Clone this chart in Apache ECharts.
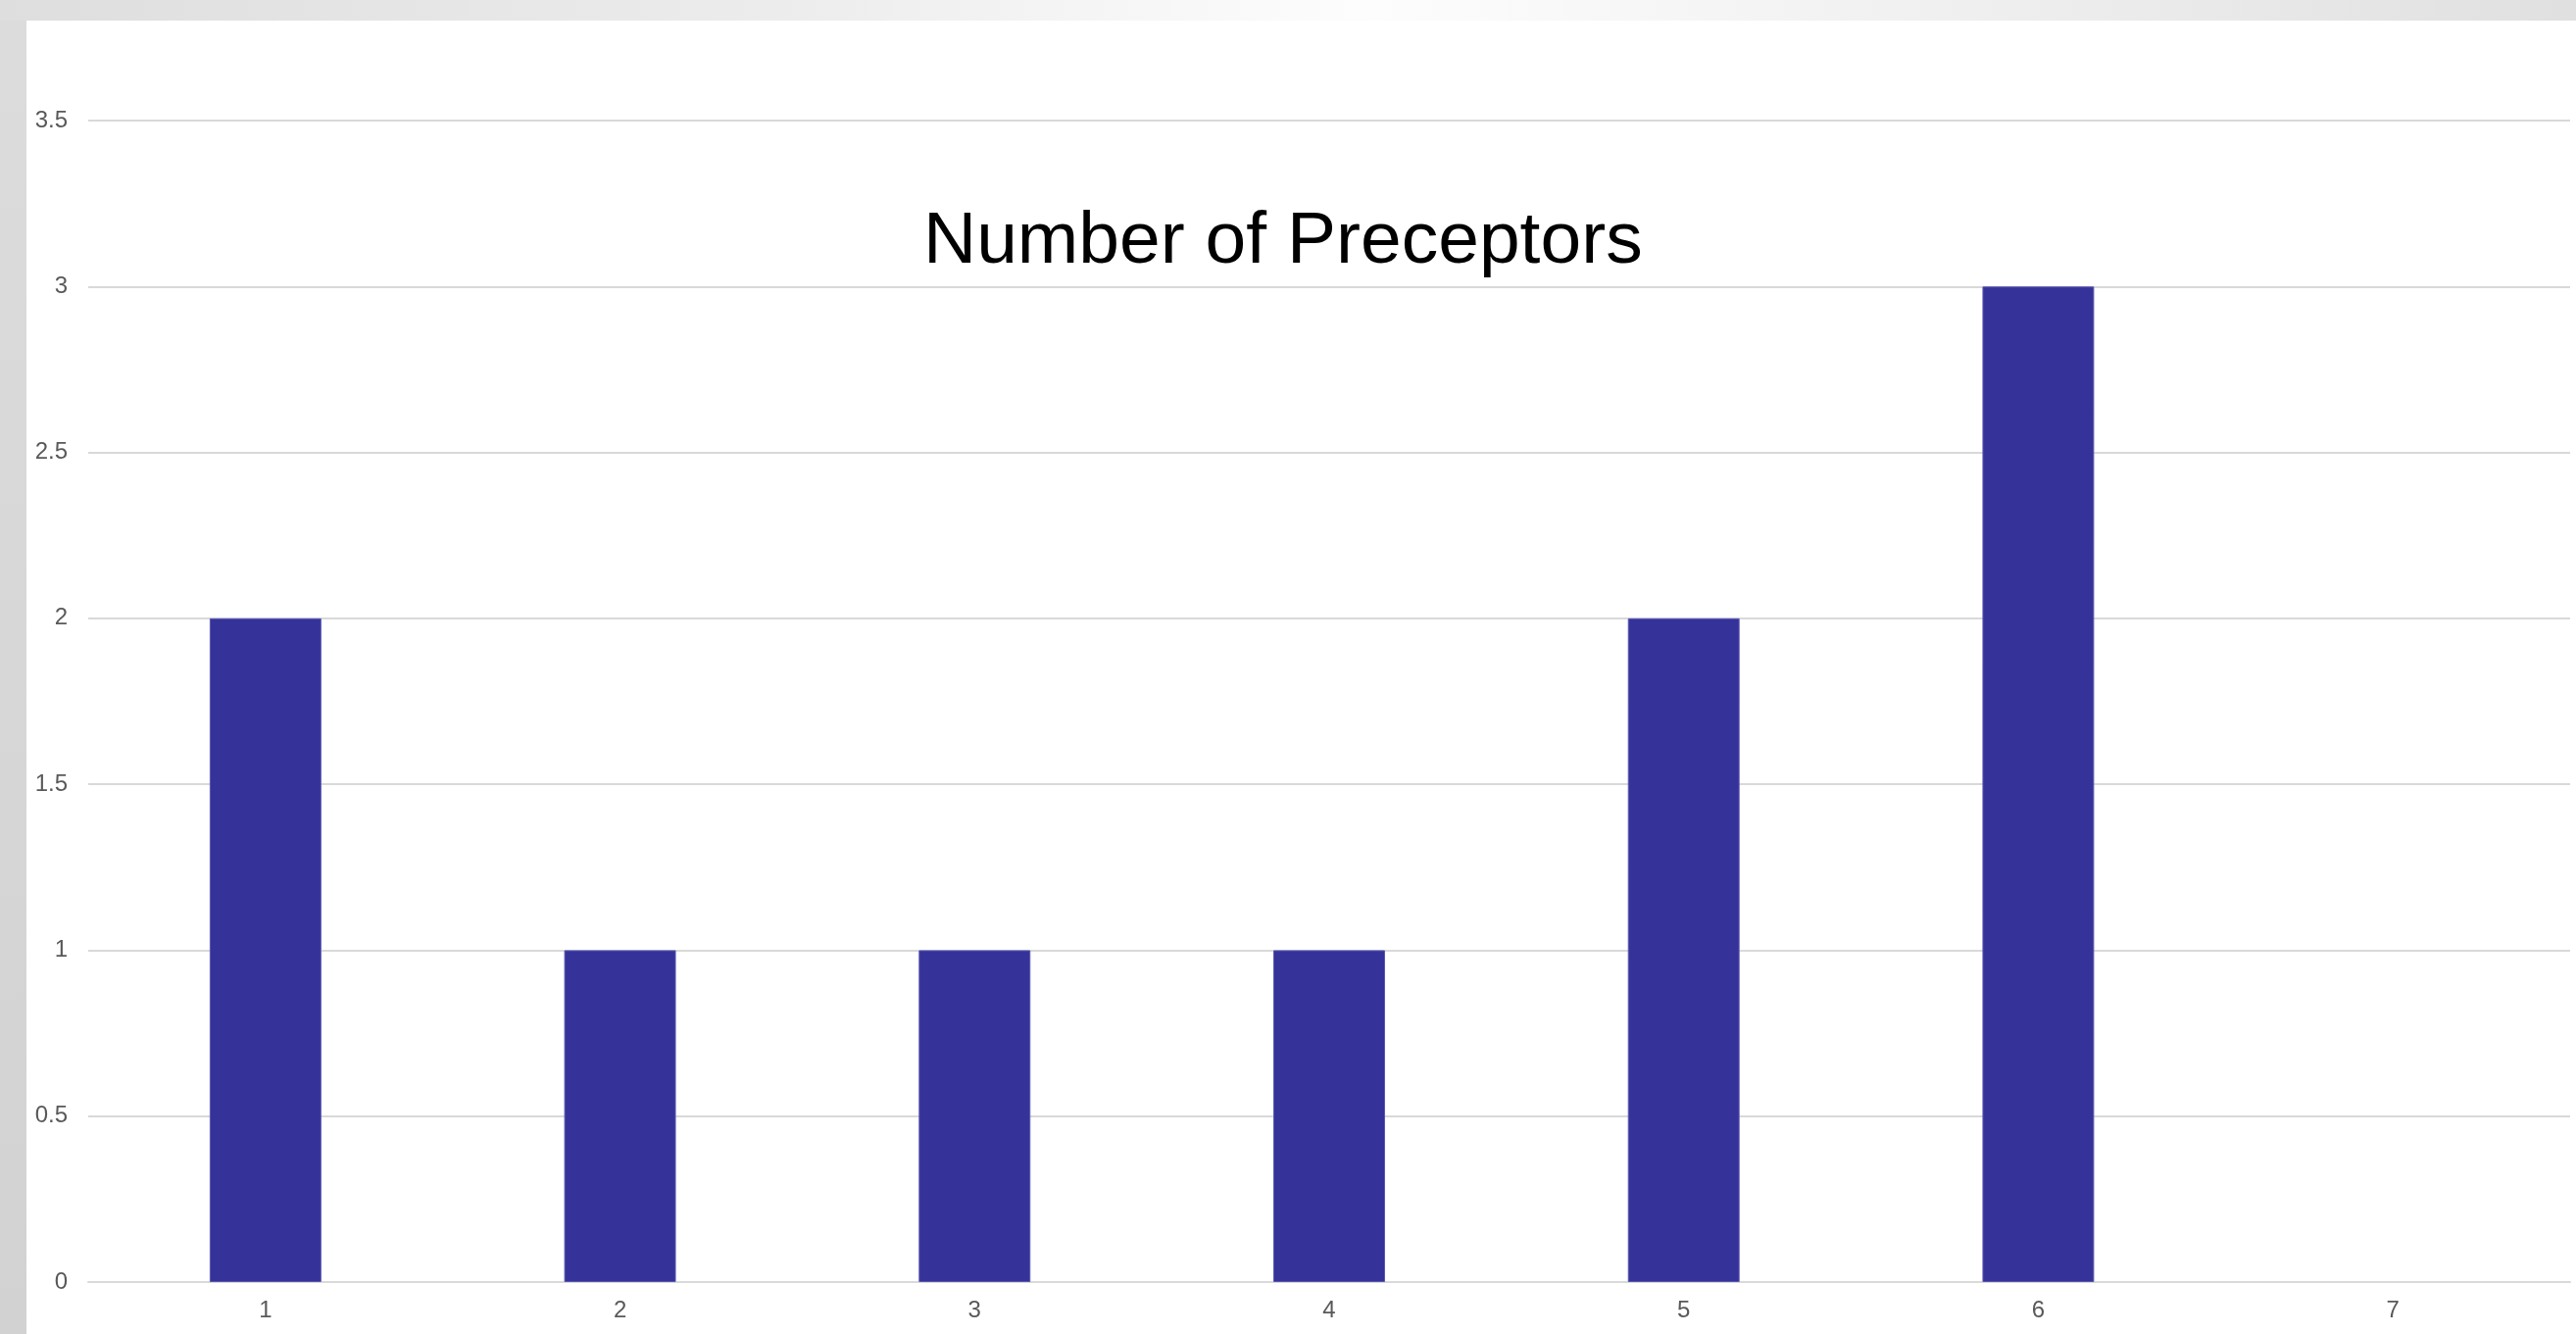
<!DOCTYPE html>
<html>
<head>
<meta charset="utf-8">
<title>Number of Preceptors</title>
<script src="https://cdn.jsdelivr.net/npm/echarts@6/dist/echarts.min.js"></script>
<style>
  html, body { margin: 0; padding: 0; width: 2628px; height: 1361px; overflow: hidden; }
  body {
    background: linear-gradient(to right, #dedede 0%, #ececec 30%, #fdfdfd 53%, #f0f0f0 75%, #e0e0e0 100%);
    position: relative;
  }
  #side {
    position: absolute; left: 0; top: 21px; width: 27px; height: 1340px;
    background: linear-gradient(to bottom, #dcdcdc, #d2d2d2);
  }
  #main {
    position: absolute; left: 27px; top: 21px; width: 2601px; height: 1340px;
    background: #ffffff;
  }
</style>
</head>
<body>
<div id="side"></div>
<div id="main"></div>
<script>
// chart data
const categories = ['1', '2', '3', '4', '5', '6', '7'];
const preceptors = [2, 1, 1, 1, 2, 3, null];
const titleText = 'Number of Preceptors';

const chart = echarts.init(document.getElementById('main'), null, { renderer: 'canvas' });

const option = {
  backgroundColor: '#ffffff',
  animation: false,
  title: {
    text: titleText,
    left: 910,
    top: 184,
    textStyle: {
      fontFamily: 'Liberation Sans',
      fontSize: 75,
      fontWeight: 'normal',
      color: '#000000'
    }
  },
  grid: {
    left: 63,
    right: 6,
    top: 102,
    bottom: 53,
    containLabel: false
  },
  xAxis: {
    type: 'category',
    data: categories,
    axisTick: { show: false },
    axisLine: { lineStyle: { color: '#d9d9d9', width: 2 } },
    axisLabel: {
      fontFamily: 'Liberation Sans',
      fontSize: 24,
      color: '#595959',
      margin: 17
    }
  },
  yAxis: {
    type: 'value',
    min: 0,
    max: 3.5,
    interval: 0.5,
    axisLine: { show: false },
    axisTick: { show: false },
    splitLine: { lineStyle: { color: '#d9d9d9', width: 2 } },
    axisLabel: {
      fontFamily: 'Liberation Sans',
      fontSize: 24,
      color: '#595959',
      margin: 21
    }
  },
  series: [
    {
      name: titleText,
      type: 'bar',
      data: preceptors,
      barWidth: '31.5%',
      itemStyle: {
        color: '#353399',
        borderColor: '#5957b0',
        borderWidth: 1
      }
    }
  ]
};

chart.setOption(option);
</script>
</body>
</html>
